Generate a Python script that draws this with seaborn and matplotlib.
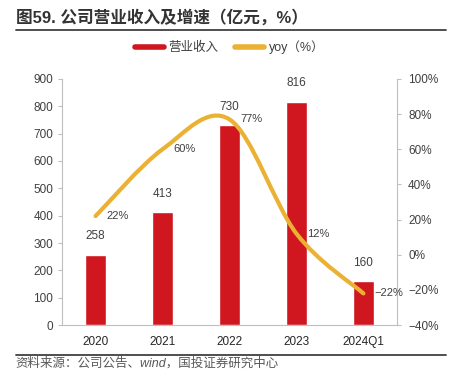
import matplotlib
matplotlib.use("Agg")
import matplotlib.pyplot as plt
from matplotlib.path import Path
from matplotlib.patches import PathPatch
from matplotlib.lines import Line2D
from matplotlib.ticker import FuncFormatter
import seaborn as sns
import pandas as pd

years = ["2020", "2021", "2022", "2023", "2024Q1"]
revenue = [258, 413, 730, 816, 160]
yoy = [22, 60, 77, 12, -22]

RED = "#D0161E"
GOLD = "#EBB133"
GREY = "#404040"

sns.set_style("white")
plt.rcParams['font.family'] = ['Liberation Sans', 'Noto Sans CJK SC', 'DejaVu Sans']
plt.rcParams['axes.unicode_minus'] = True

df = pd.DataFrame({"year": years, "revenue": revenue, "yoy": yoy})

fig = plt.figure(figsize=(4.5, 3.87), dpi=100)
ax = fig.add_axes([0.138, 0.160, 0.744, 0.636])

sns.barplot(data=df, x="year", y="revenue", color=RED, width=0.31,
            saturation=1, ax=ax)
ax.set_ylim(0, 900)
ax.set_yticks(range(0, 901, 100))
ax.set_xlim(-0.5, 4.5)
ax.set_xlabel("")
ax.set_ylabel("")
for i, v in enumerate(revenue):
    ax.annotate(str(v), (i, v), xytext=(0, 9), textcoords="offset points",
                ha="center", va="bottom", fontsize=8.5, color=GREY)

ax2 = ax.twinx()
ax2.set_ylim(-40, 100)
ax2.set_yticks(range(-40, 101, 20))
ax2.yaxis.set_major_formatter(FuncFormatter(lambda v, p: f"{int(v)}%".replace("-", "\u2212")))

# smoothed yoy curve (Catmull-Rom -> cubic bezier through the data points)
pts = list(enumerate(yoy))
verts = [pts[0]]
codes = [Path.MOVETO]
for k in range(len(pts) - 1):
    p0 = pts[max(k - 1, 0)]
    p1 = pts[k]
    p2 = pts[k + 1]
    p3 = pts[min(k + 2, len(pts) - 1)]
    c1 = (p1[0] + (p2[0] - p0[0]) / 6, p1[1] + (p2[1] - p0[1]) / 6)
    c2 = (p2[0] - (p3[0] - p1[0]) / 6, p2[1] - (p3[1] - p1[1]) / 6)
    verts += [c1, c2, p2]
    codes += [Path.CURVE4] * 3
ax2.add_patch(PathPatch(Path(verts, codes), facecolor="none", edgecolor=GOLD,
                        lw=3, capstyle="round", zorder=3))
for i, v in enumerate(yoy):
    ax2.annotate(f"{v}%".replace("-", "\u2212"), (i, v), xytext=(8, 0),
                 textcoords="offset points", ha="left", va="center",
                 fontsize=8, color=GREY)

for a in (ax, ax2):
    for s in a.spines.values():
        s.set_visible(False)
    a.tick_params(axis="y", labelsize=8.5, labelcolor=GREY, color="#BFBFBF",
                  length=3, width=0.8)
    a.grid(False)
ax.spines["left"].set_visible(True)
ax.spines["left"].set_color("#BFBFBF")
ax.spines["bottom"].set_visible(True)
ax.spines["bottom"].set_color("#BFBFBF")
ax2.spines["right"].set_visible(True)
ax2.spines["right"].set_color("#BFBFBF")
ax2.tick_params(axis="y", pad=5)
ax.tick_params(axis="x", length=0, labelsize=8.5, labelcolor="#262626", pad=8)

handles = [Line2D([0], [0], color=RED, lw=4),
           Line2D([0], [0], color=GOLD, lw=4)]
fig.legend(handles, ["营业收入", "yoy（%）"], loc="center",
           bbox_to_anchor=(0.51, 0.877), ncol=2, frameon=False, fontsize=9,
           handlelength=2.3, columnspacing=1.3, handletextpad=0.4,
           labelcolor=GREY)

fig.text(0.035, 0.955, "图59. 公司营业收入及增速（亿元，%）", fontsize=12,
         fontweight="bold", color="#333333", va="center", ha="left")
fig.add_artist(Line2D([0.035, 0.99], [0.922, 0.922], color="#404040", lw=1.3))
fig.add_artist(Line2D([0.035, 0.99], [0.083, 0.083], color="#404040", lw=1.3))
fig.text(0.035, 0.062, "资料来源：公司公告、wind，国投证券研究中心", fontsize=9,
         color="#595959", va="center", ha="left", style="italic")

fig.savefig("out.png", dpi=100)
